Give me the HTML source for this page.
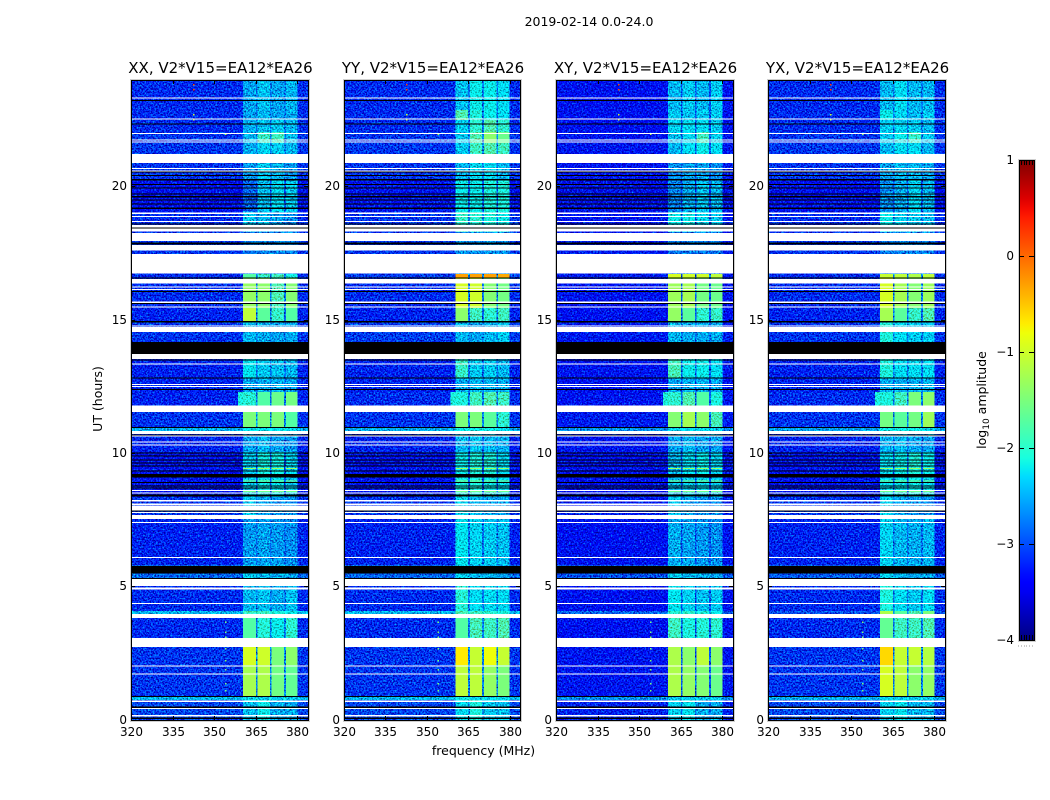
<!DOCTYPE html>
<html lang="en">
<head>
<meta charset="utf-8">
<title>2019-02-14 0.0-24.0</title>
<style>
html,body{margin:0;padding:0;background:#fff;}
svg{display:block;}
text{font-family:"DejaVu Sans","Liberation Sans",sans-serif;fill:#000;}
.ttl{font-size:15px;text-anchor:middle;}
.tick{font-size:12px;}
</style>
</head>
<body>
<svg id="figure" xmlns="http://www.w3.org/2000/svg" width="1050" height="800" viewBox="0 0 1050 800">
  <defs>
    <filter id="grain" filterUnits="userSpaceOnUse" x="0" y="0" width="1050" height="800" color-interpolation-filters="sRGB">
      <feTurbulence type="fractalNoise" baseFrequency="0.62" numOctaves="2" seed="7" result="n"/>
      <feColorMatrix in="n" type="matrix" values="0 0 0 0 0.5  1 0 0 0 0  1 0 0 0 0  0 0 0 0 1" result="m"/>
      <feComposite in="SourceGraphic" in2="m" operator="arithmetic" k1="0" k2="1" k3="1.7" k4="-0.85" result="speckled"/>
      <feComposite in="speckled" in2="SourceAlpha" operator="in"/>
    </filter>
    <linearGradient id="cbarGradient" x1="0" y1="1" x2="0" y2="0"></linearGradient>
  </defs>
  <rect x="0" y="0" width="1050" height="800" fill="#fff"/>
  <text x="589" y="26" font-size="12.5" text-anchor="middle">2019-02-14 0.0-24.0</text>
  <g id="panels"></g>
  <text transform="translate(102,399) rotate(-90)" font-size="12.5" text-anchor="middle">UT (hours)</text>
  <text x="483.5" y="755" font-size="12.5" text-anchor="middle">frequency (MHz)</text>
  <g id="colorbar"></g>
  <text transform="translate(986,400) rotate(-90)" font-size="12.5" text-anchor="middle">log<tspan font-size="9" dy="3">10</tspan><tspan dy="-3"> amplitude</tspan></text>
</svg>
<script>
// ---- data ------------------------------------------------------------------
const panelTitles = ['XX, V2*V15=EA12*EA26','YY, V2*V15=EA12*EA26','XY, V2*V15=EA12*EA26','YX, V2*V15=EA12*EA26'];
const freqTicks = [320,335,350,365,380];
const utTicks = [0,5,10,15,20];
const cbarTicks = [1,0,-1,-2,-3,-4];
const channelEdges = [320,360.4,365,365.6,370.1,370.7,375.2,375.8,380,384];
const channelColumn = [0,1,-1,2,-1,3,-1,4,0];
const utEdges = [24,22.875,22.5,22.05,21.638,21.225,20.288,19.05,18.3,16.725,16.575,15.45,14.925,14.175,12.825,12.3,11.55,10.95,10.838,10.05,9.188,8.363,7.688,5.813,5.288,4.088,3.975,2.738,2.063,0.9,0.75,0];

// log10 amplitude per UT band: background, then the four sub-bands
const levelsXX = [
[-3.2,-2.6,-2.45,-2.6,-2.5],[-3.2,-2.6,-2.5,-2.6,-2.55],[-3.2,-2.55,-2.45,-2.4,-2.5],[-3.15,-2.5,-1.95,-1.9,-2.45],
[-3.15,-2.55,-2.35,-2.4,-2.5],[-3.15,-2.65,-2.4,-2.5,-2.65],[-3.4,-2.9,-2.45,-2.3,-2.4],[-3.2,-2.45,-2.5,-2.6,-2.7],
[-3.15,-2.8,-2.75,-2.75,-2.75],[-3.2,-1.75,-1.95,-1.9,-2.15],[-3.2,-1.35,-1.4,-1.8,-1.45],[-3.25,-1.1,-1.7,-1.95,-1.75],
[-3.15,-2.5,-2.55,-2.6,-2.55],[-3.25,-2.25,-2.4,-2.45,-2.5],[-3.25,-2.6,-2.55,-2.55,-2.6],[-3.25,-2.05,-1.75,-1.6,-1.55],
[-3.15,-1.5,-1.5,-1.5,-1.75],[-2.55,-2.25,-2.25,-2.25,-2.3],[-3.25,-2.6,-2.5,-2.6,-2.65],[-3.35,-2.4,-2.15,-2.15,-2.35],
[-3.35,-2.35,-2.2,-2.25,-2.4],[-3.15,-2.4,-2.6,-2.7,-2.7],[-3.25,-2.65,-2.6,-2.65,-2.7],[-2.9,-2.4,-2.5,-2.55,-2.6],
[-3.2,-2.5,-2.45,-2.55,-2.45],[-2.5,-1.9,-1.9,-2.1,-2.2],[-3.2,-1.75,-2.05,-2.2,-2],[-3.15,-0.95,-1,-1.5,-1.4],
[-3.15,-1.25,-1.2,-1.55,-1.65],[-2.5,-2.3,-2.4,-2.4,-2.4],[-3.05,-2.45,-2.2,-2.55,-2.55]];
const levelsYY = [
[-3.2,-2.45,-2.2,-2.2,-2.3],[-3.2,-1.8,-2.1,-2.2,-2.3],[-3.2,-2.35,-2,-1.8,-2],[-3.15,-2.4,-1.8,-1.4,-1.6],
[-3.15,-2.4,-1.9,-1.8,-1.9],[-3.15,-2.5,-2.3,-2.3,-2.5],[-3.35,-2.2,-2.2,-2.1,-2.1],[-3.15,-1.95,-2,-2.1,-2.2],
[-3.15,-2.7,-2.7,-2.7,-2.7],[-3.1,-0.3,-0.3,-0.3,-0.35],[-3.2,-0.95,-1,-1.45,-1.55],[-3.25,-1.4,-1.9,-2,-1.9],
[-3.1,-2.5,-2.6,-2.5,-2.4],[-3.25,-1.95,-2.4,-2.4,-2.5],[-3.25,-2.55,-2.5,-2.5,-2.55],[-3.2,-2.1,-1.9,-1.8,-1.9],
[-3.15,-1.5,-1.5,-1.7,-2],[-2.55,-2.2,-2.2,-2.2,-2.3],[-3.25,-2.5,-2.45,-2.5,-2.55],[-3.35,-2.2,-2.1,-2.1,-2.3],
[-3.35,-2.15,-2.1,-2.2,-2.3],[-3.15,-2.3,-2.5,-2.6,-2.6],[-3.25,-2.25,-2.35,-2.4,-2.45],[-2.9,-2.35,-2.5,-2.5,-2.6],
[-3.2,-2.05,-2.3,-2.3,-2.3],[-2.5,-1.8,-1.9,-2,-2.1],[-3.2,-1.75,-1.85,-1.9,-1.8],[-3.15,-0.7,-1.05,-0.8,-1.05],
[-3.15,-1.1,-1.1,-1.35,-1.5],[-2.5,-2.2,-2.3,-2.3,-2.3],[-3.05,-2.3,-2.1,-2.4,-2.45]];
const levelsXY = [
[-3.4,-2.5,-2.4,-2.5,-2.4],[-3.4,-2.4,-2.45,-2.4,-2.4],[-3.4,-2.35,-2.3,-2.3,-2.4],[-3.35,-2.45,-2.3,-1.9,-2.35],
[-3.35,-2.5,-2.3,-2.2,-2.3],[-3.35,-2.7,-2.6,-2.6,-2.7],[-3.5,-2.75,-2.55,-2.45,-2.5],[-3.35,-2.2,-2.2,-2.3,-2.4],
[-3.3,-2.8,-2.8,-2.8,-2.8],[-3.3,-0.95,-1,-1,-1.1],[-3.35,-1.3,-1.25,-1.55,-1.6],[-3.4,-1.35,-1.7,-2,-1.95],
[-3.3,-2.5,-2.55,-2.55,-2.55],[-3.35,-1.85,-2.2,-2.2,-2.3],[-3.4,-2.6,-2.55,-2.55,-2.6],[-3.35,-2,-1.8,-1.75,-2.1],
[-3.3,-1.45,-1.25,-1.4,-1.85],[-2.7,-2.3,-2.3,-2.3,-2.4],[-3.35,-2.6,-2.5,-2.6,-2.6],[-3.45,-2.5,-2.3,-2.2,-2.35],
[-3.45,-2.45,-2.35,-2.3,-2.4],[-3.3,-2.4,-2.6,-2.7,-2.7],[-3.4,-2.55,-2.6,-2.65,-2.7],[-3,-2.4,-2.5,-2.55,-2.6],
[-3.4,-2.25,-2.35,-2.45,-2.4],[-2.9,-2,-2,-2.1,-2.2],[-3.4,-1.9,-2.1,-2.05,-2],[-3.35,-1.2,-1.4,-1.1,-1.4],
[-3.35,-1.2,-1.35,-1.45,-1.6],[-2.7,-2.4,-2.4,-2.4,-2.4],[-3.25,-2.35,-2.25,-2.55,-2.55]];
const levelsYX = [
[-3.2,-2.5,-2.3,-2.5,-2.5],[-3.2,-2.2,-2.35,-2.5,-2.4],[-3.2,-2.4,-2.35,-2.4,-2.5],[-3.15,-2.4,-2.2,-1.95,-2.4],
[-3.15,-2.5,-2.3,-2.3,-2.5],[-3.15,-2.6,-2.5,-2.5,-2.6],[-3.4,-2.7,-2.55,-2.35,-2.5],[-3.2,-2.2,-2.35,-2.4,-2.5],
[-3.15,-2.8,-2.8,-2.8,-2.8],[-3.2,-1.05,-1.1,-1.2,-1.1],[-3.2,-0.95,-1.25,-1.45,-1.3],[-3.25,-1.25,-1.7,-1.95,-1.8],
[-3.15,-2.1,-2.3,-2.4,-2.4],[-3.25,-2.1,-2.3,-2.3,-2.3],[-3.25,-2.55,-2.55,-2.55,-2.5],[-3.2,-2.1,-1.9,-1.5,-1.4],
[-3.15,-1.55,-1.7,-1.55,-1.3],[-2.6,-2.2,-2.2,-2.2,-2.3],[-3.25,-2.55,-2.5,-2.6,-2.6],[-3.35,-2.3,-2.2,-2.1,-2.2],
[-3.35,-2.3,-2.25,-2.2,-2.3],[-3.15,-2.35,-2.6,-2.7,-2.7],[-3.25,-2.35,-2.5,-2.55,-2.5],[-2.95,-2.35,-2.5,-2.55,-2.6],
[-3.2,-2.1,-2.3,-2.4,-2.3],[-3,-1.2,-1.7,-1.8,-1.5],[-3.2,-1.65,-1.9,-1.9,-1.8],[-3.15,-0.6,-1.05,-1.05,-1.15],
[-3.15,-0.95,-1.1,-1.4,-1.35],[-2.55,-2.3,-2.4,-2.4,-2.4],[-3.05,-2.35,-2.25,-2.5,-2.5]];

// short bright scans across the sub-bands: UT hour and level
const scanHours = [9.45,8.98,8.58];
const scanLevels = [-1.3,-1.5,-1.6];
// emission spilling just below the first sub-band: UT start, UT end, level
const shoulderSpans = [[12.3,11.8,-2.1]];
// narrow interference specks: frequency (MHz), UT hour, level
const rfiSpecks = [[353.9,3.686,-1.5],[353.9,3.311,-1.5],[353.9,3.124,-1.5],[353.9,2.7,-1.5],[353.9,2.25,-1.5],[353.9,1.91,-1.5],[353.9,1.39,-1.5],[353.9,1.125,-1.5],[342.4,23.85,0.2],[342.4,23.67,0.2],[342.4,22.725,-1],[342.4,22.54,-1],[353.9,22,-1.2]];
// UT spans with no data (white) and spans of zero amplitude (black)
const whiteSpans = [[23.344,23.306],[22.556,22.519],[22.01,21.975],[21.769,21.731],[21.694,21.656],[21.225,20.888],[20.7,20.663],[20.606,20.569],[19.031,18.975],[18.9,18.863],[18.713,18.675],[18.563,18.469],[18.431,18.311],[18.261,17.963],[17.813,17.599],[17.475,16.736],[16.538,16.361],[16.249,16.211],[16.163,16.125],[15.686,15.638],[15.499,15.461],[14.786,14.749],[14.738,14.55],[13.725,13.538],[13.361,13.324],[12.6,12.563],[12.525,12.488],[11.801,11.55],[10.838,10.725],[10.661,10.624],[10.436,10.399],[10.339,10.301],[8.625,8.588],[8.539,8.513],[8.25,8.201],[8.126,8.051],[8.025,7.864],[7.8,7.774],[7.688,7.538],[7.425,7.388],[6.113,6.075],[5.288,5.025],[4.961,4.901],[4.388,4.35],[3.975,3.825],[3.075,2.738],[2.051,1.999],[1.751,1.725],[0.739,0.675],[0.45,0.413],[0.188,0.139]];
const blackSpans = [[23.25,23.213],[22.369,22.331],[20.561,20.539],[20.438,20.4],[20.288,20.224],[20.1,20.063],[19.969,19.931],[19.744,19.706],[19.65,19.594],[19.519,19.481],[19.369,19.331],[19.219,19.163],[18.619,18.581],[18.469,18.431],[17.899,17.824],[16.586,16.549],[16.088,16.05],[15.638,15.6],[14.963,14.906],[14.175,13.725],[13.519,13.481],[12.836,12.799],[12.413,12.375],[10.988,10.95],[10.714,10.676],[10.039,9.986],[9.926,9.9],[9.776,9.75],[9.649,9.611],[9.536,9.514],[9.349,9.311],[9.225,9.101],[8.925,8.888],[8.786,8.764],[8.711,8.674],[8.449,8.389],[7.849,7.811],[5.775,5.501],[5.325,5.288],[0.9,0.874],[0.506,0.45],[0.086,0.038]];
const panelLevels = [levelsXX,levelsYY,levelsXY,levelsYX];

// ---- layout and axis functions ---------------------------------------------
const NS = 'http://www.w3.org/2000/svg';
const panelLefts = [131,344,556,768];
const panelWidths = [177,176,177,177];
const plotTop = 80, plotBottom = 720;
const freqMin = 320, freqMax = 383.8, utMax = 24;
const cbarLeft = 1019, cbarW = 15, cbarTop = 160, cbarBottom = 640, vMin = -4, vMax = 1;
function xScale(f, left, w){ return left + (f - freqMin) / (freqMax - freqMin) * w; }
function yScale(h){ return plotBottom - h / utMax * (plotBottom - plotTop); }
function cbarScale(v){ return cbarBottom - (v - vMin) / (vMax - vMin) * (cbarBottom - cbarTop); }
function svgEl(tag, attrs, parent){
  const el = document.createElementNS(NS, tag);
  for (const k in attrs) el.setAttribute(k, attrs[k]);
  parent.appendChild(el);
  return el;
}
function lerpTable(t, table){
  for (let i = 1; i < table.length; i++) {
    if (t <= table[i][0]) {
      const a = table[i-1], b = table[i];
      return a[1] + (b[1] - a[1]) * (t - a[0]) / (b[0] - a[0]);
    }
  }
  return table[table.length-1][1];
}
const jetR = [[0,0],[0.35,0],[0.66,1],[0.89,1],[1,0.5]];
const jetG = [[0,0],[0.125,0],[0.375,1],[0.64,1],[0.91,0],[1,0]];
const jetB = [[0,0.5],[0.11,1],[0.34,1],[0.65,0],[1,0]];
function jet(v){
  const t = Math.max(0, Math.min(1, (v - vMin) / (vMax - vMin)));
  return 'rgb(' + Math.round(255*lerpTable(t,jetR)) + ',' + Math.round(255*lerpTable(t,jetG)) + ',' + Math.round(255*lerpTable(t,jetB)) + ')';
}

const panelsRoot = document.getElementById('panels');
const grainThreshold = -1.75;

panelTitles.forEach(function(title, p){
  const left = panelLefts[p];
  const plotW = panelWidths[p];
  const levels = panelLevels[p];
  const g = svgEl('g', {}, panelsRoot);
  
  

  const halo = svgEl('rect', {x:left+0.5, y:plotTop+0.5, width:plotW, height:plotBottom-plotTop, fill:'none', stroke:'#cfcfcf', 'stroke-width':3}, g);
  
  

  const grainy = svgEl('g', {filter:'url(#grain)', 'shape-rendering':'crispEdges'}, g);
  
  
  const smooth = svgEl('g', {'shape-rendering':'crispEdges'}, g);
  
  

  levels.forEach(function(row, r){
    const y0 = yScale(utEdges[r]), y1 = yScale(utEdges[r+1]);
    channelColumn.forEach(function(col, c){
      const v = col < 0 ? row[0] + 0.4 : row[col];
      const x0 = xScale(channelEdges[c], left, plotW);
      const x1 = Math.min(left + plotW, xScale(channelEdges[c+1], left, plotW));
      const cell = svgEl('rect', {x:x0, y:y0, width:x1-x0, height:y1-y0, fill:jet(v)}, v < grainThreshold ? grainy : smooth);
      
      
    });
  });

  shoulderSpans.forEach(function(s){
    const sx = xScale(358.6,left,plotW);
    const sh = svgEl('rect', {x:sx, y:yScale(s[0]), width:xScale(360.4,left,plotW)-sx, height:yScale(s[1])-yScale(s[0]), fill:jet(s[2])}, grainy);
    
    
  });

  scanHours.forEach(function(h, i){
    const v = scanLevels[i];
    [[360.4,365],[365.6,370.1],[370.7,375.2],[375.8,380]].forEach(function(b){
      const bx = xScale(b[0],left,plotW);
      const sc = svgEl('rect', {x:bx, y:yScale(h), width:xScale(b[1],left,plotW)-bx, height:1, fill:jet(v)}, smooth);
      
      
    });
  });

  rfiSpecks.forEach(function(s){
    const sp = svgEl('rect', {x:xScale(s[0],left,plotW), y:yScale(s[1]), width:1.5, height:1.5, fill:jet(s[2])}, smooth);
    
    
  });

  const masks = svgEl('g', {'shape-rendering':'crispEdges'}, g);
  
  
  whiteSpans.forEach(function(s){
    const m = svgEl('rect', {x:left, y:yScale(s[0]), width:plotW, height:Math.max(1,yScale(s[1])-yScale(s[0])), fill:'#fff'}, masks);
    
    
  });
  blackSpans.forEach(function(s){
    const m = svgEl('rect', {x:left, y:yScale(s[0]), width:plotW, height:Math.max(1,yScale(s[1])-yScale(s[0])), fill:'#000'}, masks);
    
    
  });

  const frame = svgEl('rect', {x:left+0.5, y:plotTop+0.5, width:plotW, height:plotBottom-plotTop, fill:'none', stroke:'#000', 'stroke-width':1}, g);
  
  

  const t = svgEl('text', {x:left+plotW/2+1, y:73, 'class':'ttl'}, g);
  t.textContent = title;
  
  

  freqTicks.forEach(function(f){
    const x = Math.round(xScale(f,left,plotW)) + 0.5;
    const tk1 = svgEl('line', {x1:x, x2:x, y1:plotBottom, y2:plotBottom-4, stroke:'#000'}, g);
    
    
    const tk2 = svgEl('line', {x1:x, x2:x, y1:plotTop, y2:plotTop+4, stroke:'#000'}, g);
    
    
    const lb = svgEl('text', {x:x, y:736, 'text-anchor':'middle', 'class':'tick'}, g);
    lb.textContent = String(f);
    
    
  });
  utTicks.forEach(function(h){
    const y = Math.floor(yScale(h)) + 0.5;
    const tk1 = svgEl('line', {x1:left, x2:left+4, y1:y, y2:y, stroke:'#000'}, g);
    
    
    const tk2 = svgEl('line', {x1:left+plotW, x2:left+plotW-4, y1:y, y2:y, stroke:'#000'}, g);
    
    
    const lb = svgEl('text', {x:left-4, y:y+3.5, 'text-anchor':'end', 'class':'tick'}, g);
    lb.textContent = String(h);
    
    
  });
});

// ---- colorbar ---------------------------------------------------------------
const cbarRoot = document.getElementById('colorbar');
const grad = document.getElementById('cbarGradient');
for (let s = 0; s <= 50; s++) {
  const v = vMin + (vMax - vMin) * s / 50;
  svgEl('stop', {offset:(s/50), 'stop-color':jet(v)}, grad);
}
const barHalo = svgEl('rect', {x:cbarLeft+0.5, y:cbarTop+0.5, width:cbarW, height:cbarBottom-cbarTop, fill:'none', stroke:'#cfcfcf', 'stroke-width':3}, cbarRoot);


const bar = svgEl('rect', {x:cbarLeft, y:cbarTop, width:cbarW, height:cbarBottom-cbarTop, fill:'url(#cbarGradient)'}, cbarRoot);


const barFrame = svgEl('rect', {x:cbarLeft+0.5, y:cbarTop+0.5, width:cbarW, height:cbarBottom-cbarTop, fill:'none', stroke:'#000'}, cbarRoot);


cbarTicks.forEach(function(v){
  const y = Math.round(cbarScale(v)) + 0.5;
  const a = svgEl('line', {x1:cbarLeft, x2:cbarLeft+5, y1:y, y2:y, stroke:'#000'}, cbarRoot);
  
  
  const b = svgEl('line', {x1:cbarLeft+cbarW, x2:cbarLeft+cbarW-5, y1:y, y2:y, stroke:'#000'}, cbarRoot);
  
  
  const lb = svgEl('text', {x:cbarLeft-5, y:y+3.5, 'text-anchor':'end', 'class':'tick'}, cbarRoot);
  lb.textContent = String(v).replace('-', '\u2212');
  
  
});
[0.2,0.4,0.6,0.8,1].forEach(function(frac){
  const x = Math.round(cbarLeft + cbarW * frac * 0.92) - 0.5;
  const top = svgEl('line', {x1:x, x2:x, y1:cbarTop, y2:cbarTop+5, stroke:'#000'}, cbarRoot);
  
  
  const bot = svgEl('line', {x1:x, x2:x, y1:cbarBottom, y2:cbarBottom-5, stroke:'#000'}, cbarRoot);
  
  
  const dot = svgEl('rect', {x:x-0.5, y:645.5, width:1, height:1, fill:'#999'}, cbarRoot);
  
  
});
const firstDot = svgEl('rect', {x:cbarLeft-1, y:645.5, width:1, height:1, fill:'#999'}, cbarRoot);


</script>
</body>
</html>
